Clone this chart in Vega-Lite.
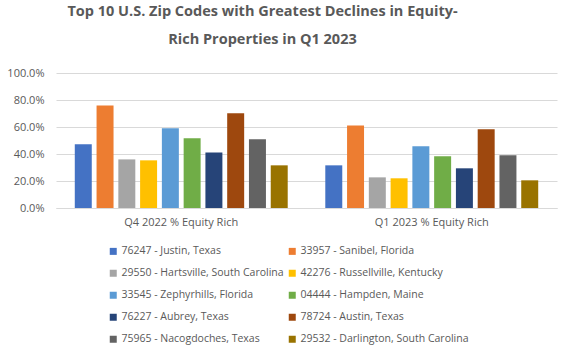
{
  "$schema": "https://vega.github.io/schema/vega-lite/v6.json",
  "autosize": {"type": "none"},
  "width": 501,
  "height": 135,
  "padding": {"left": 56, "top": 73, "right": 14, "bottom": 150},
  "background": "white",
  "title": {
    "text": ["Top 10 U.S. Zip Codes with Greatest Declines in Equity-", "Rich Properties in Q1 2023"],
    "font": "Open Sans",
    "fontSize": 14.5,
    "fontWeight": "bold",
    "color": "#595959",
    "anchor": "middle",
    "dx": -44,
    "offset": 20,
    "lineHeight": 28
  },
  "data": {
    "values": [
      {"period": "Q4 2022 % Equity Rich", "zip": "76247 - Justin, Texas", "order": 1, "value": 0.472},
      {"period": "Q4 2022 % Equity Rich", "zip": "33957 - Sanibel, Florida", "order": 2, "value": 0.760},
      {"period": "Q4 2022 % Equity Rich", "zip": "29550 - Hartsville, South Carolina", "order": 3, "value": 0.360},
      {"period": "Q4 2022 % Equity Rich", "zip": "42276 - Russellville, Kentucky", "order": 4, "value": 0.353},
      {"period": "Q4 2022 % Equity Rich", "zip": "33545 - Zephyrhills, Florida", "order": 5, "value": 0.590},
      {"period": "Q4 2022 % Equity Rich", "zip": "04444 - Hampden, Maine", "order": 6, "value": 0.516},
      {"period": "Q4 2022 % Equity Rich", "zip": "76227 - Aubrey, Texas", "order": 7, "value": 0.412},
      {"period": "Q4 2022 % Equity Rich", "zip": "78724 - Austin, Texas", "order": 8, "value": 0.701},
      {"period": "Q4 2022 % Equity Rich", "zip": "75965 - Nacogdoches, Texas", "order": 9, "value": 0.509},
      {"period": "Q4 2022 % Equity Rich", "zip": "29532 - Darlington, South Carolina", "order": 10, "value": 0.316},
      {"period": "Q1 2023 % Equity Rich", "zip": "76247 - Justin, Texas", "order": 1, "value": 0.316},
      {"period": "Q1 2023 % Equity Rich", "zip": "33957 - Sanibel, Florida", "order": 2, "value": 0.612},
      {"period": "Q1 2023 % Equity Rich", "zip": "29550 - Hartsville, South Carolina", "order": 3, "value": 0.227},
      {"period": "Q1 2023 % Equity Rich", "zip": "42276 - Russellville, Kentucky", "order": 4, "value": 0.220},
      {"period": "Q1 2023 % Equity Rich", "zip": "33545 - Zephyrhills, Florida", "order": 5, "value": 0.457},
      {"period": "Q1 2023 % Equity Rich", "zip": "04444 - Hampden, Maine", "order": 6, "value": 0.383},
      {"period": "Q1 2023 % Equity Rich", "zip": "76227 - Aubrey, Texas", "order": 7, "value": 0.294},
      {"period": "Q1 2023 % Equity Rich", "zip": "78724 - Austin, Texas", "order": 8, "value": 0.583},
      {"period": "Q1 2023 % Equity Rich", "zip": "75965 - Nacogdoches, Texas", "order": 9, "value": 0.390},
      {"period": "Q1 2023 % Equity Rich", "zip": "29532 - Darlington, South Carolina", "order": 10, "value": 0.205}
    ]
  },
  "mark": {"type": "bar"},
  "encoding": {
    "x": {
      "field": "period", "type": "nominal", "sort": null,
      "scale": {"paddingInner": 0.15, "paddingOuter": 0.075},
      "axis": {"title": null, "labelAngle": 0, "ticks": false, "labelPadding": 8, "domainColor": "#d9d9d9", "labelColor": "#595959", "labelFont": "Open Sans", "labelFontSize": 11}
    },
    "xOffset": {
      "field": "zip", "type": "nominal",
      "sort": {"field": "order"},
      "scale": {"paddingInner": 0.22, "paddingOuter": 0}
    },
    "y": {
      "field": "value", "type": "quantitative",
      "scale": {"domain": [0, 1]},
      "axis": {"title": null, "format": ".1%", "values": [0, 0.2, 0.4, 0.6, 0.8, 1.0], "domain": false, "ticks": false, "labelPadding": 12, "gridColor": "#d9d9d9", "labelColor": "#595959", "labelFont": "Open Sans", "labelFontSize": 11}
    },
    "color": {
      "field": "zip", "type": "nominal",
      "sort": {"field": "order"},
      "scale": {
        "domain": ["76247 - Justin, Texas", "33957 - Sanibel, Florida", "29550 - Hartsville, South Carolina", "42276 - Russellville, Kentucky", "33545 - Zephyrhills, Florida", "04444 - Hampden, Maine", "76227 - Aubrey, Texas", "78724 - Austin, Texas", "75965 - Nacogdoches, Texas", "29532 - Darlington, South Carolina"],
        "range": ["#4472C4", "#ED7D31", "#A5A5A5", "#FFC000", "#5B9BD5", "#70AD47", "#264478", "#9E480E", "#636363", "#997300"]
      },
      "legend": {
        "title": null,
        "orient": "none",
        "direction": "horizontal",
        "legendX": 52,
        "legendY": 173,
        "columns": 2,
        "columnPadding": 3,
        "rowPadding": 11,
        "symbolType": "square",
        "symbolSize": 49,
        "symbolStrokeWidth": 0,
        "labelFont": "Open Sans",
        "labelFontSize": 10.5,
        "labelColor": "#595959",
        "labelLimit": 300,
        "labelOffset": 3
      }
    }
  },
  "config": {"view": {"stroke": null}}
}
